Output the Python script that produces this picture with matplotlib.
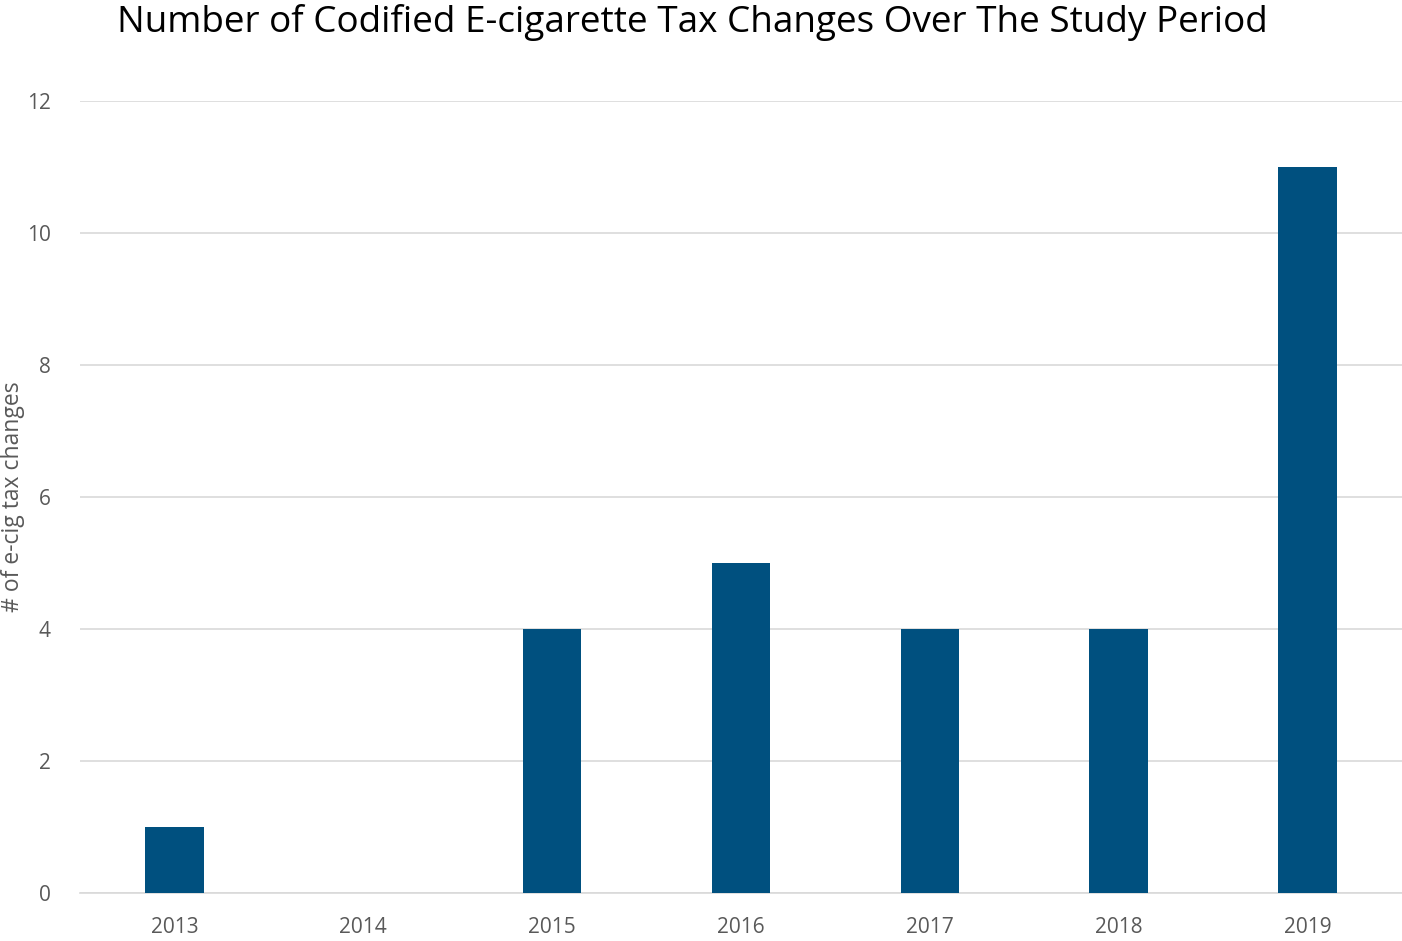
import numpy as np
import matplotlib.pyplot as plt

plt.rcParams['font.family'] = ['Open Sans', 'DejaVu Sans']

# data
years = ['2013', '2014', '2015', '2016', '2017', '2018', '2019']
tax_changes = [1, 0, 4, 5, 4, 4, 11]
y_ticks = [0, 2, 4, 6, 8, 10, 12]

bar_color = '#00507F'
grid_color = '#D9D9D9'
text_color = '#595959'

fig = plt.figure(figsize=(14.02, 9.41), dpi=100)
ax = fig.add_axes([0.057, 0.051, 0.943, 0.8417])

x = np.arange(len(years))
ax.bar(x, tax_changes, width=0.31, color=bar_color, zorder=3)

ax.set_xlim(-0.5, len(years) - 0.5)
ax.set_ylim(0, 12)
ax.set_yticks(y_ticks)
ax.set_xticks(x)
ax.set_xticklabels(years)
ax.tick_params(axis='both', length=0, colors=text_color, labelsize=15)
ax.tick_params(axis='y', pad=21)
ax.tick_params(axis='x', pad=17)

ax.grid(axis='y', color=grid_color, linewidth=1.2, zorder=0)
for side in ['top', 'right', 'left']:
    ax.spines[side].set_visible(False)
ax.spines['bottom'].set_color(grid_color)
ax.spines['bottom'].set_linewidth(1.2)

# y label placed as figure text so it stays inside the canvas
fig.text(0.0095, 0.472, '# of e-cig tax changes', rotation=90,
         ha='center', va='center', color=text_color, fontsize=16.5)

fig.text(0.494, 0.976, 'Number of Codified E-cigarette Tax Changes Over The Study Period',
         ha='center', va='center', fontsize=26.6, color='black')

fig.savefig('out.png', dpi=100)
